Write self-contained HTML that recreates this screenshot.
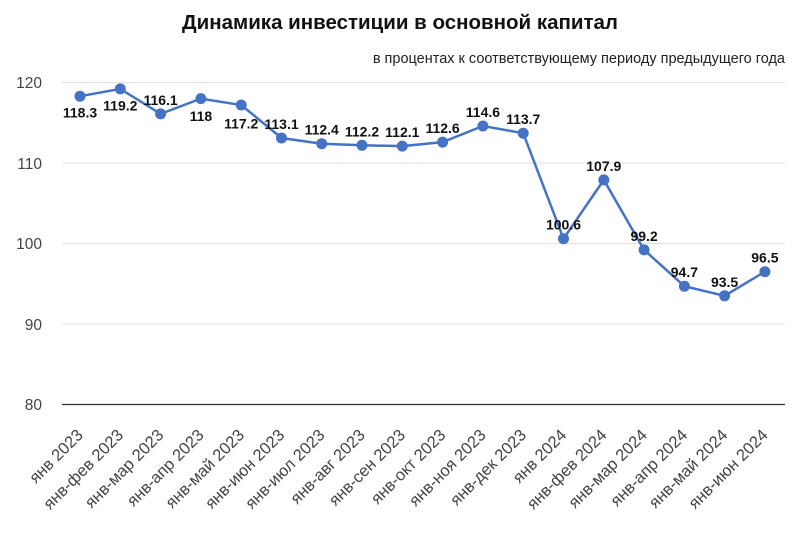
<!DOCTYPE html>
<html><head><meta charset="utf-8"><style>body{margin:0;background:#fff}svg{display:block}</style></head><body>
<svg width="800" height="533" xmlns="http://www.w3.org/2000/svg" font-family="Liberation Sans, Arial, sans-serif">
<text x="400" y="29" text-anchor="middle" font-size="20.5" font-weight="bold" fill="#111">Динамика инвестиции в основной капитал</text>
<text x="785" y="63" text-anchor="end" font-size="14.5" fill="#222">в процентах к соответствующему периоду предыдущего года</text>
<g stroke="#e0e0e0" stroke-width="1">
<line x1="62" y1="82.5" x2="785" y2="82.5"/><line x1="62" y1="163" x2="785" y2="163"/><line x1="62" y1="243.5" x2="785" y2="243.5"/><line x1="62" y1="324" x2="785" y2="324"/>
</g>
<line x1="62" y1="404.5" x2="785" y2="404.5" stroke="#333" stroke-width="1.3"/>
<g font-size="15.5" fill="#444" text-anchor="end">
<text x="42" y="88">120</text><text x="42" y="169">110</text><text x="42" y="249">100</text><text x="42" y="330">90</text><text x="42" y="410">80</text>
</g>
<polyline fill="none" stroke="#4472c4" stroke-width="2.5" points="80,96.2 120.3,88.9 160.6,113.9 200.9,98.6 241.2,105 281.5,138 321.7,143.7 362,145.3 402.3,146.1 442.6,142.1 482.9,126 523.2,133.2 563.5,238.7 603.8,179.9 644.1,249.9 684.4,286.2 724.6,295.8 764.9,271.7"/>
<g fill="#4472c4">
<circle cx="80" cy="96.2" r="5.5"/><circle cx="120.3" cy="88.9" r="5.5"/><circle cx="160.6" cy="113.9" r="5.5"/><circle cx="200.9" cy="98.6" r="5.5"/><circle cx="241.2" cy="105" r="5.5"/><circle cx="281.5" cy="138" r="5.5"/><circle cx="321.7" cy="143.7" r="5.5"/><circle cx="362" cy="145.3" r="5.5"/><circle cx="402.3" cy="146.1" r="5.5"/><circle cx="442.6" cy="142.1" r="5.5"/><circle cx="482.9" cy="126" r="5.5"/><circle cx="523.2" cy="133.2" r="5.5"/><circle cx="563.5" cy="238.7" r="5.5"/><circle cx="603.8" cy="179.9" r="5.5"/><circle cx="644.1" cy="249.9" r="5.5"/><circle cx="684.4" cy="286.2" r="5.5"/><circle cx="724.6" cy="295.8" r="5.5"/><circle cx="764.9" cy="271.7" r="5.5"/>
</g>
<g font-size="14" font-weight="bold" fill="#111" text-anchor="middle">
<text x="80" y="117.7">118.3</text><text x="120.3" y="110.4">119.2</text><text x="160.6" y="104.9">116.1</text><text x="200.9" y="121.1">118</text><text x="241.2" y="128.5">117.2</text><text x="281.5" y="129">113.1</text><text x="321.7" y="134.7">112.4</text><text x="362" y="136.3">112.2</text><text x="402.3" y="137.1">112.1</text><text x="442.6" y="133.1">112.6</text><text x="482.9" y="117">114.6</text><text x="523.2" y="124.2">113.7</text><text x="563.5" y="229.7">100.6</text><text x="603.8" y="170.9">107.9</text><text x="644.1" y="240.9">99.2</text><text x="684.4" y="277.2">94.7</text><text x="724.6" y="286.8">93.5</text><text x="764.9" y="262.7">96.5</text>
</g>
<g font-size="16.5" fill="#444" text-anchor="end">
<text transform="translate(84,436) rotate(-45)">янв 2023</text>
<text transform="translate(124.3,436) rotate(-45)">янв-фев 2023</text>
<text transform="translate(164.6,436) rotate(-45)">янв-мар 2023</text>
<text transform="translate(204.9,436) rotate(-45)">янв-апр 2023</text>
<text transform="translate(245.2,436) rotate(-45)">янв-май 2023</text>
<text transform="translate(285.5,436) rotate(-45)">янв-июн 2023</text>
<text transform="translate(325.7,436) rotate(-45)">янв-июл 2023</text>
<text transform="translate(366,436) rotate(-45)">янв-авг 2023</text>
<text transform="translate(406.3,436) rotate(-45)">янв-сен 2023</text>
<text transform="translate(446.6,436) rotate(-45)">янв-окт 2023</text>
<text transform="translate(486.9,436) rotate(-45)">янв-ноя 2023</text>
<text transform="translate(527.2,436) rotate(-45)">янв-дек 2023</text>
<text transform="translate(567.5,436) rotate(-45)">янв 2024</text>
<text transform="translate(607.8,436) rotate(-45)">янв-фев 2024</text>
<text transform="translate(648.1,436) rotate(-45)">янв-мар 2024</text>
<text transform="translate(688.4,436) rotate(-45)">янв-апр 2024</text>
<text transform="translate(728.6,436) rotate(-45)">янв-май 2024</text>
<text transform="translate(768.9,436) rotate(-45)">янв-июн 2024</text>
</g>
</svg>
</body></html>
